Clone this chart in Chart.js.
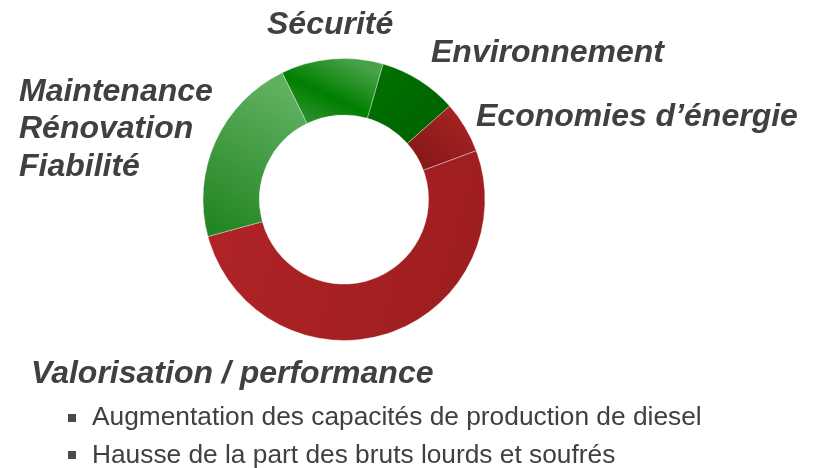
<!DOCTYPE html>
<html><head><meta charset="utf-8">
<script src="https://cdn.jsdelivr.net/npm/chart.js@4.4.1/dist/chart.umd.min.js"></script>
<style>
html,body{margin:0;padding:0;background:#fff;}
#wrap{position:relative;width:816px;height:468px;overflow:hidden;font-family:"Liberation Sans",Arial,sans-serif;color:#404040;background:#fff;}
#cv{position:absolute;left:0;top:0;width:816px;height:468px;}
.lbl{position:absolute;font-weight:bold;font-style:italic;font-size:32px;line-height:37.5px;white-space:nowrap;}
.bul{position:absolute;font-size:26.3px;line-height:37.3px;white-space:nowrap;}
.sq{position:absolute;width:8px;height:8px;background:#4a4a4a;}
</style></head>
<body><div id="wrap">
<div id="cv"><canvas id="c"></canvas></div>
</div>
<script>
// ---- data ----
const categories = [
  ['Sécurité'],
  ['Environnement'],
  ['Economies d’énergie'],
  ['Valorisation / performance'],
  ['Maintenance', 'Rénovation', 'Fiabilité']
];
const shares = [11.7, 9.0, 5.9, 51.4, 22.0];
const bulletPoints = [
  'Augmentation des capacités de production de diesel',
  'Hausse de la part des bruts lourds et soufrés'
];

// ---- styling / layout ----
const outerR = 141;
const labelPos = [
  {left: 267, top: 5.2},
  {left: 431, top: 33.2},
  {left: 476, top: 96.9},
  {left: 31, top: 353.5},
  {left: 19, top: 71.9}
];
const bulletPos = [{left: 92, top: 398.2, sq: 414}, {left: 92, top: 435.5, sq: 451.3}];
const gradSpecs = [
  {p: [-0.25, -0.47, 0.01, -1.01], stops: [[0, '#3b963b'], [0.5, '#007f00'], [1, '#48a248']]},
  {p: [0.15, -0.95, 0.65, -0.45], stops: [[0, '#007300'], [1, '#006200']]},
  {p: [0.9, -0.65, 0.55, -0.25], stops: [[0, '#ac2424'], [1, '#861818']]},
  {p: [-1, 0, 1, 0.6], stops: [[0, '#b12426'], [1, '#9d1d1f']]},
  {p: [-0.4, -0.75, -0.95, 0.25], stops: [[0, '#5fb05f'], [1, '#208320']]}
];

const wrap = document.getElementById('wrap');
categories.forEach((lines, i) => {
  const d = document.createElement('div');
  d.className = 'lbl';
  d.style.left = labelPos[i].left + 'px';
  d.style.top = labelPos[i].top + 'px';
  lines.forEach((s, k) => {
    if (k) d.appendChild(document.createElement('br'));
    d.appendChild(document.createTextNode(s));
  });
  wrap.appendChild(d);
});
bulletPoints.forEach((t, i) => {
  const sq = document.createElement('div');
  sq.className = 'sq';
  sq.style.left = '68px';
  sq.style.top = bulletPos[i].sq + 'px';
  wrap.appendChild(sq);
  const d = document.createElement('div');
  d.className = 'bul';
  d.style.left = bulletPos[i].left + 'px';
  d.style.top = bulletPos[i].top + 'px';
  d.textContent = t;
  wrap.appendChild(d);
});

new Chart(document.getElementById('c'), {
  type: 'doughnut',
  data: {
    labels: categories.map(l => l.join(' ')),
    datasets: [{
      data: shares,
      backgroundColor: (ctx) => {
        const chart = ctx.chart;
        const ca = chart.chartArea;
        const s = gradSpecs[ctx.dataIndex];
        if (!ca || !s) return '#888';
        const cx = (ca.left + ca.right) / 2, cy = (ca.top + ca.bottom) / 2;
        const g = chart.ctx.createLinearGradient(cx + s.p[0] * outerR, cy + s.p[1] * outerR, cx + s.p[2] * outerR, cy + s.p[3] * outerR);
        s.stops.forEach(([o, c]) => g.addColorStop(o, c));
        return g;
      },
      borderColor: 'rgba(255,255,255,0.35)',
      borderWidth: 1
    }]
  },
  options: {
    responsive: true,
    maintainAspectRatio: false,
    animation: false,
    events: [],
    rotation: -26,
    radius: outerR,
    cutout: '60%',
    layout: {padding: {left: 0, right: 128, top: 0, bottom: 69}},
    plugins: {legend: {display: false}, tooltip: {enabled: false}}
  }
});
</script>
</body></html>
